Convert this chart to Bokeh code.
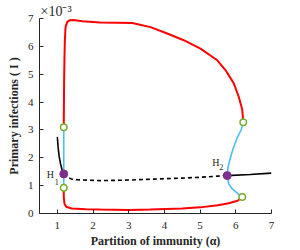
from bokeh.plotting import figure
from bokeh.models import Range1d, FixedTicker, Label
from bokeh.embed import file_html
from bokeh.resources import INLINE

# ---- data (I in units of 1e-3) ----
red_up_alpha = [1.18, 1.185, 1.19, 1.2, 1.21, 1.23, 1.28, 1.35, 1.45, 1.7, 2.2, 3.1, 3.61, 4.08, 4.54, 5.01, 5.48, 5.71, 5.94, 6.08, 6.18, 6.21]
red_up_I     = [3.10, 4.0, 4.8, 5.6, 6.2, 6.7, 6.88, 6.94, 6.95, 6.9, 6.86, 6.84, 6.69, 6.46, 6.22, 5.92, 5.5, 5.15, 4.68, 4.2, 3.73, 3.28]
red_lo_alpha = [1.18, 1.18, 1.2, 1.25, 1.4, 1.8, 2.2, 3.0, 3.6, 4.5, 5.0, 5.5, 5.8, 6.05, 6.18]
red_lo_I     = [0.92, 0.6, 0.35, 0.24, 0.18, 0.15, 0.14, 0.13, 0.14, 0.18, 0.22, 0.3, 0.37, 0.46, 0.59]
blue_l_alpha = [1.18, 1.18, 1.18]
blue_l_I     = [0.92, 1.42, 3.10]
blue_r_alpha = [6.21, 6.15, 6.04, 5.93, 5.85, 5.78, 5.76, 5.8, 5.9, 6.05, 6.18]
blue_r_I     = [3.28, 3.0, 2.72, 2.35, 2.01, 1.65, 1.36, 1.07, 0.88, 0.72, 0.59]
blk_l_alpha  = [1.0, 1.02, 1.05, 1.09, 1.13, 1.18]
blk_l_I      = [2.75, 2.4, 2.05, 1.78, 1.58, 1.42]
blk_d_alpha  = [1.18, 1.27, 1.4, 1.55, 2.2, 3.0, 3.6, 4.5, 5.0, 5.48, 5.76]
blk_d_I      = [1.42, 1.3, 1.24, 1.21, 1.18, 1.2, 1.23, 1.27, 1.3, 1.34, 1.36]
blk_r_alpha  = [5.76, 6.4, 7.0]
blk_r_I      = [1.36, 1.4, 1.45]
lp_alpha     = [1.18, 1.18, 6.21, 6.18]
lp_I         = [3.10, 0.92, 3.28, 0.59]
hopf_alpha   = [1.18, 5.76]
hopf_I       = [1.42, 1.36]
x_ticks      = [1, 2, 3, 4, 5, 6, 7]
y_ticks      = [0, 1, 2, 3, 4, 5, 6, 7]

SERIF = "Liberation Serif"
AX = "#262626"

p = figure(width=300, height=250, output_backend="svg", toolbar_location=None,
           x_range=Range1d(0.5, 7), y_range=Range1d(0, 7),
           min_border_left=39, min_border_right=29, min_border_top=18, min_border_bottom=35)
p.outline_line_color = None
p.grid.visible = False
p.background_fill_color = "white"

p.title.text = "×10⁻³"
p.title.align = "left"
p.title.offset = 1
p.title.standoff = -1
p.title.text_font = SERIF
p.title.text_font_size = "14px"
p.title.text_font_style = "normal"
p.title.text_color = AX

for ax in (p.xaxis[0], p.yaxis[0]):
    ax.major_tick_in = 4
    ax.major_tick_out = 0
    ax.minor_tick_line_color = None
    ax.axis_line_color = AX
    ax.major_tick_line_color = AX
    ax.major_label_text_font = SERIF
    ax.major_label_text_font_size = "11px"
    ax.major_label_text_color = AX
    ax.axis_label_text_font = SERIF
    ax.axis_label_text_font_style = "bold"
    ax.axis_label_text_font_size = "12px"
    ax.axis_label_text_color = AX

p.xaxis.ticker = FixedTicker(ticks=x_ticks)
p.yaxis.ticker = FixedTicker(ticks=y_ticks)
p.xaxis.axis_label = "Partition of immunity (α)"
p.yaxis.axis_label = "Primary infections ( I )"
p.xaxis.major_label_standoff = 8
p.yaxis.major_label_standoff = 6
p.xaxis.axis_label_standoff = 2
p.yaxis.axis_label_standoff = 4

p.line(blue_l_alpha, blue_l_I, line_color="#4DBEEE", line_width=1.6)
p.line(blue_r_alpha, blue_r_I, line_color="#4DBEEE", line_width=1.6)
p.line(red_up_alpha, red_up_I, line_color="#FF0000", line_width=2)
p.line(red_lo_alpha, red_lo_I, line_color="#FF0000", line_width=2)
p.line(blk_l_alpha, blk_l_I, line_color="black", line_width=1.6)
p.line(blk_d_alpha, blk_d_I, line_color="black", line_width=1.6, line_dash="4 3")
p.line(blk_r_alpha, blk_r_I, line_color="black", line_width=1.6)
p.scatter(lp_alpha, lp_I, size=6.5, fill_color="white", line_color="#77AC30", line_width=1.5)
p.scatter(hopf_alpha, hopf_I, size=8, fill_color="#7E2F8E", line_color="#7E2F8E")

# H labels
p.add_layout(Label(x=hopf_alpha[0], y=hopf_I[0], text="H", x_offset=-17, y_offset=-1,
                   text_baseline="alphabetic",
                   text_font=SERIF, text_font_size="10px", text_color=AX))
p.add_layout(Label(x=hopf_alpha[0], y=hopf_I[0], text="1", x_offset=-9, y_offset=-8,
                   text_baseline="alphabetic",
                   text_font=SERIF, text_font_size="8px", text_color=AX))
p.add_layout(Label(x=hopf_alpha[1], y=hopf_I[1], text="H", x_offset=-15, y_offset=13,
                   text_baseline="alphabetic",
                   text_font=SERIF, text_font_size="10px", text_color=AX))
p.add_layout(Label(x=hopf_alpha[1], y=hopf_I[1], text="2", x_offset=-8, y_offset=9,
                   text_baseline="alphabetic",
                   text_font=SERIF, text_font_size="8px", text_color=AX))

open("out.html", "w").write(file_html(p, INLINE))
